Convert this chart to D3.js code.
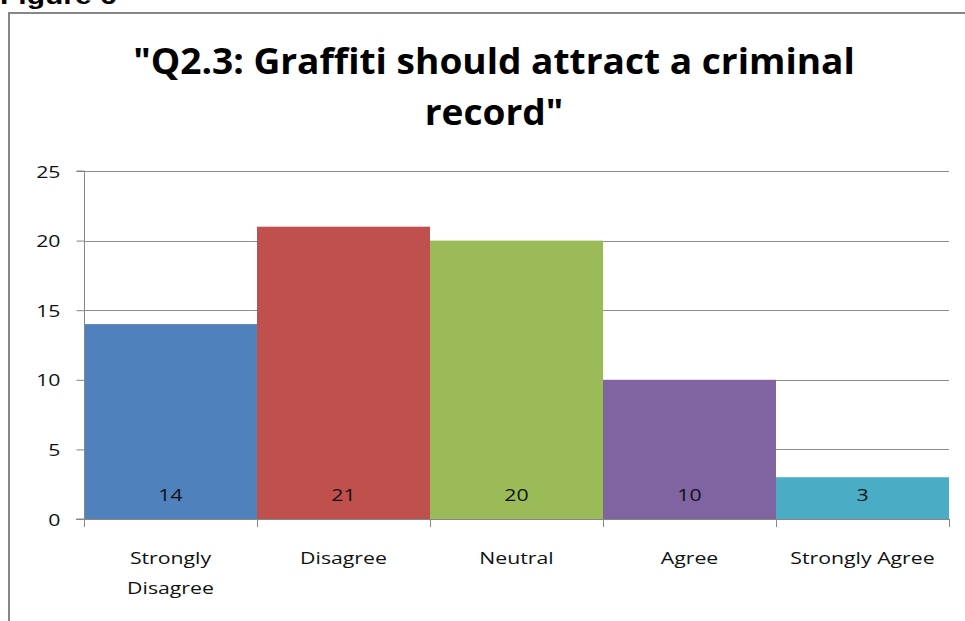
<!DOCTYPE html>
<html>
<head>
<meta charset="utf-8">
<script src="https://cdn.jsdelivr.net/npm/d3@7/dist/d3.min.js"></script>
<style>
  html, body { margin: 0; padding: 0; background: #fff; overflow: hidden; }
  svg { display: block; font-variant-ligatures: none; }
</style>
</head>
<body>
<svg id="chart" width="965" height="621"></svg>
<script>
// Survey responses for Q2.3
const categories = ["Strongly Disagree", "Disagree", "Neutral", "Agree", "Strongly Agree"];
const categoryLines = [["Strongly", "Disagree"], ["Disagree"], ["Neutral"], ["Agree"], ["Strongly Agree"]];
const counts = [14, 21, 20, 10, 3];
const barColors = ["#4F81BD", "#C0504D", "#9BBB59", "#8064A2", "#4BACC6"];
const yTicks = [0, 5, 10, 15, 20, 25];
const titleLines = ["\"Q2.3: Graffiti should attract a criminal", "record\""];
const figureLabel = "Figure 6";

const svg = d3.select("#chart");
const font = "'Open Sans', Lato, sans-serif";
const stretch = 1.25; // horizontal widening of the small chart text

const plot = { left: 84, right: 949, top: 171, bottom: 519 };

const x = d3.scaleBand().domain(categories).range([plot.left, plot.right]).padding(0);
const y = d3.scaleLinear().domain([0, 25]).range([plot.bottom, plot.top]);

// Figure caption, mostly clipped by the page top
svg.append("text")
  .attr("transform", `translate(0,4) scale(${stretch},1)`)
  .attr("font-family", "'Liberation Sans', Arial, sans-serif")
  .attr("font-weight", "bold").attr("font-size", 24)
  .attr("fill", "#000")
  .text(figureLabel);

// Chart frame
svg.append("path")
  .attr("d", "M9,621 V13 H965")
  .attr("fill", "none").attr("stroke", "#868686").attr("stroke-width", 2);

// Title
svg.append("g").selectAll("text").data(titleLines).join("text")
  .attr("transform", (d, i) => `translate(494,${74 + i * 51}) scale(1.06,1)`)
  .attr("text-anchor", "middle")
  .attr("font-family", font).attr("font-weight", "bold").attr("font-size", 35)
  .attr("fill", "#000")
  .text(d => d);

// Horizontal gridlines
svg.append("g").selectAll("line").data(yTicks.filter(t => t > 0)).join("line")
  .attr("x1", plot.left).attr("x2", plot.right)
  .attr("y1", d => Math.round(y(d)) + 0.5).attr("y2", d => Math.round(y(d)) + 0.5)
  .attr("stroke", "#8c8c8c").attr("stroke-width", 1);

// Bars
svg.append("g").selectAll("rect").data(counts).join("rect")
  .attr("x", (d, i) => x(categories[i]))
  .attr("width", x.bandwidth())
  .attr("y", d => y(d))
  .attr("height", d => y(0) - y(d))
  .attr("fill", (d, i) => barColors[i]);

// Value labels near the base of each bar
svg.append("g").selectAll("text").data(counts).join("text")
  .attr("transform", (d, i) => `translate(${x(categories[i]) + x.bandwidth() / 2},501) scale(${stretch},1)`)
  .attr("text-anchor", "middle")
  .attr("font-family", font).attr("font-size", 17)
  .attr("fill", "#111")
  .text(d => d);

// Y axis
const yAxis = d3.axisLeft(y).tickValues(yTicks).tickSize(8).tickPadding(0).tickFormat("");
const gy = svg.append("g").attr("transform", `translate(${plot.left + 0.5},0)`).call(yAxis);
gy.select(".domain").attr("stroke", "#868686").attr("d", `M-8,${y(0)}H0V${y(25)}H-8`);
gy.selectAll(".tick line").attr("stroke", "#868686");
gy.selectAll(".tick").append("text")
  .attr("transform", `translate(-24,6) scale(${stretch},1)`)
  .attr("text-anchor", "end")
  .attr("font-family", font).attr("font-size", 17).attr("fill", "#111")
  .text(d => d);

// X axis with tick marks on category boundaries
const gx = svg.append("g");
gx.append("line")
  .attr("x1", plot.left - 8).attr("x2", plot.right)
  .attr("y1", plot.bottom + 0.5).attr("y2", plot.bottom + 0.5)
  .attr("stroke", "#868686");
const boundaries = categories.map(c => x(c)).concat([x(categories[categories.length - 1]) + x.bandwidth()]);
gx.selectAll("line.b").data(boundaries).join("line").attr("class", "b")
  .attr("x1", d => Math.round(d) + 0.5).attr("x2", d => Math.round(d) + 0.5)
  .attr("y1", plot.bottom).attr("y2", plot.bottom + 8)
  .attr("stroke", "#868686");

const catText = gx.selectAll("text").data(categoryLines).join("text")
  .attr("transform", (d, i) => `translate(${x(categories[i]) + x.bandwidth() / 2},564) scale(${stretch},1)`)
  .attr("text-anchor", "middle")
  .attr("font-family", font).attr("font-size", 17).attr("fill", "#111");
catText.selectAll("tspan").data(d => d).join("tspan")
  .attr("x", 0)
  .attr("dy", (d, i) => i === 0 ? 0 : 30)
  .text(d => d);
</script>
</body>
</html>
